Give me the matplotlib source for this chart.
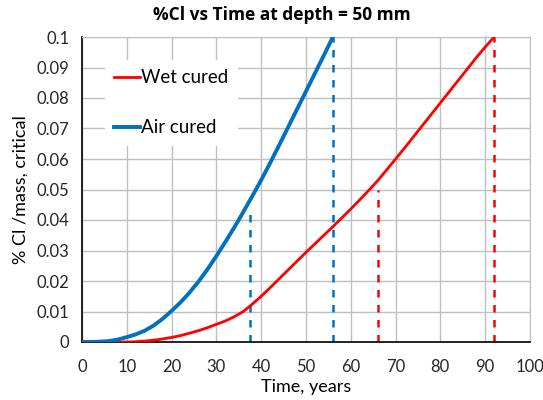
import numpy as np
import matplotlib
matplotlib.use('Agg')
import matplotlib.pyplot as plt

plt.rcParams['font.family'] = ['Lato', 'DejaVu Sans']

# Valores
T_HUMEDO = [0, 10, 12, 14, 16, 18, 20, 22, 24, 26, 28, 30, 32, 34, 36, 38, 40,
            42, 44, 46, 48, 50, 52, 54, 56, 58, 60, 62, 64, 66, 68, 70, 72, 74, 76,
            78, 80, 82, 84, 86, 88, 90, 92]
CL_HUMEDO = [0, 0, 0.0001, 0.0003, 0.0006, 0.0010, 0.0015, 0.0021, 0.0029, 0.0037,
             0.0047, 0.0058, 0.0069, 0.0083, 0.0100, 0.0124, 0.0150, 0.0178, 0.0207,
             0.0236, 0.0265, 0.0294, 0.0322, 0.0350, 0.0378, 0.0407, 0.0436, 0.0466,
             0.0497, 0.0529, 0.0564, 0.0600, 0.0636, 0.0673, 0.0710, 0.0747, 0.0784,
             0.0821, 0.0858, 0.0895, 0.0932, 0.0967, 0.1]

T_AIRE = [0, 2, 4, 6, 8, 10, 12, 14, 16, 18, 20, 22, 24, 26, 28, 30, 32, 34, 36, 38,
          40, 42, 44, 46, 48, 50, 52, 54, 56]
CL_AIRE = [0, 0, 0.0001, 0.0003, 0.0008, 0.0016, 0.0025, 0.0037, 0.0054, 0.0076,
           0.0102, 0.0130, 0.0162, 0.0198, 0.0238, 0.0282, 0.0328, 0.0376, 0.0426,
           0.0478, 0.0531, 0.0587, 0.0645, 0.0704, 0.0763, 0.0822, 0.0881, 0.0940, 0.1]

# lineas verticales de referencia: (tiempo, altura)
VERT_AIRE = [(37.5, 0.0435), (56, 0.1)]
VERT_HUMEDO = [(66, 0.050), (92, 0.1)]

ROJO = '#FF0000'
AZUL = '#0070C0'

fig = plt.figure(figsize=(5.43, 4.0), dpi=100)
ax = fig.add_axes([0.151, 0.145, 0.825, 0.7625])

ax.plot(T_HUMEDO, CL_HUMEDO, color=ROJO, lw=2, label='Wet cured', zorder=3)
ax.plot(T_AIRE, CL_AIRE, color=AZUL, lw=2.8, label='Air cured', zorder=3)

for t, h in VERT_AIRE:
    ax.plot([t, t], [0, h], color=AZUL, lw=1.8, ls=(0, (3, 3)), zorder=2)
for t, h in VERT_HUMEDO:
    ax.plot([t, t], [0, h], color=ROJO, lw=1.8, ls=(0, (3, 3)), zorder=2)

ax.set_xlim(0, 100)
ax.set_ylim(0, 0.1)
ax.set_xticks(np.arange(0, 101, 10))
ax.set_yticks(np.arange(0, 0.101, 0.01))
ax.set_yticklabels(['0', '0.01', '0.02', '0.03', '0.04', '0.05', '0.06', '0.07',
                    '0.08', '0.09', '0.1'])
ax.grid(True, color='#BFBFBF', lw=1)
ax.set_axisbelow(True)
for s in ['top', 'right']:
    ax.spines[s].set_color('#BFBFBF')
for s in ['left', 'bottom']:
    ax.spines[s].set_color('black')
    ax.spines[s].set_linewidth(1.2)
ax.tick_params(length=0, labelsize=12, colors='#262626')
ax.tick_params(axis='x', pad=12)
ax.tick_params(axis='y', pad=9)

fig.text(0.519, 0.963, '%Cl vs Time at depth = 50 mm', ha='center', va='center',
         fontsize=12.5, fontweight='bold', family=['Open Sans', 'DejaVu Sans'])
ax.set_xlabel('Time, years', fontsize=13, labelpad=3)
ax.set_ylabel('% Cl /mass, critical', fontsize=13, labelpad=6)

leg = ax.legend(loc='upper left', bbox_to_anchor=(0.03, 0.955), fontsize=13.5,
                handlelength=1.4, handletextpad=0.05, labelspacing=1.75,
                frameon=True, facecolor='white', edgecolor='none', framealpha=1,
                borderpad=0.5, fancybox=False)

fig.savefig('out.png', dpi=100)
